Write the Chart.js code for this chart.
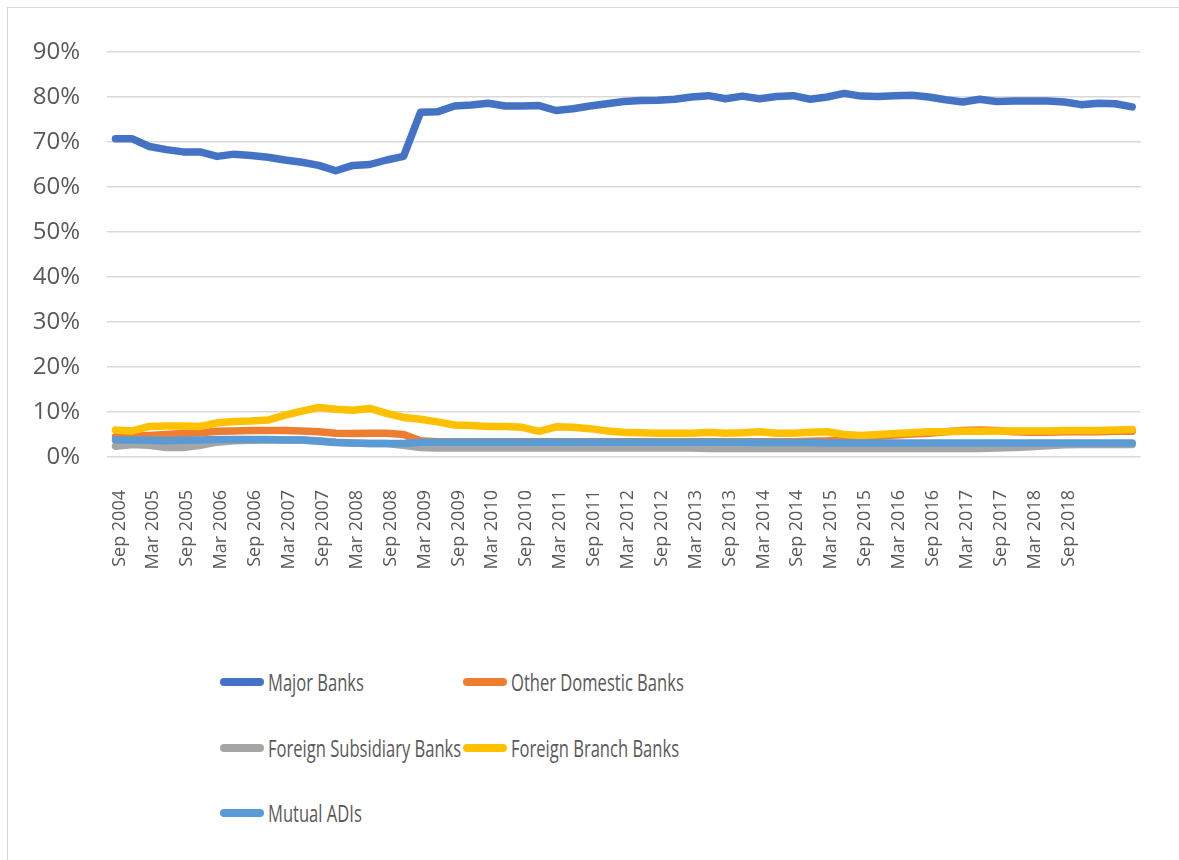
<!DOCTYPE html>
<html>
<head>
<meta charset="utf-8">
<script src="https://cdn.jsdelivr.net/npm/chart.js@4"></script>
<style>
  body { margin: 0; background: #fff; }
  #frame { position: absolute; left: 7px; top: 7px; width: 1172px; height: 853px;
           border-left: 1px solid #d9d9d9; border-top: 1px solid #d9d9d9; }
  #wrap { position: absolute; left: 0; top: 0; width: 1179px; height: 577px; }
  #legend { position: absolute; left: 220px; top: 667px; width: 600px;
            font-family: "Open Sans", sans-serif; font-size: 23px; color: #595959; }
  .item { position: absolute; display: flex; align-items: center; height: 30px; white-space: nowrap; }
  .swatch { width: 44px; height: 8px; border-radius: 4px; margin-right: 4px; flex: none; }
  .name { display: inline-block; transform: scaleX(0.72); transform-origin: left center; }
</style>
</head>
<body>
<div id="frame"></div>
<div id="wrap"><canvas id="lineChart"></canvas></div>
<div id="legend"></div>
<script>
const quarters = [
  "Sep 2004", "Dec 2004",
  "Mar 2005", "Jun 2005", "Sep 2005", "Dec 2005",
  "Mar 2006", "Jun 2006", "Sep 2006", "Dec 2006",
  "Mar 2007", "Jun 2007", "Sep 2007", "Dec 2007",
  "Mar 2008", "Jun 2008", "Sep 2008", "Dec 2008",
  "Mar 2009", "Jun 2009", "Sep 2009", "Dec 2009",
  "Mar 2010", "Jun 2010", "Sep 2010", "Dec 2010",
  "Mar 2011", "Jun 2011", "Sep 2011", "Dec 2011",
  "Mar 2012", "Jun 2012", "Sep 2012", "Dec 2012",
  "Mar 2013", "Jun 2013", "Sep 2013", "Dec 2013",
  "Mar 2014", "Jun 2014", "Sep 2014", "Dec 2014",
  "Mar 2015", "Jun 2015", "Sep 2015", "Dec 2015",
  "Mar 2016", "Jun 2016", "Sep 2016", "Dec 2016",
  "Mar 2017", "Jun 2017", "Sep 2017", "Dec 2017",
  "Mar 2018", "Jun 2018", "Sep 2018", "Dec 2018",
  "Mar 2019", "Jun 2019", "Sep 2019"
];
// last quarter that gets a label on the axis
const lastLabelled = "Sep 2018";

const majorBanks = [
  70.7, 70.7, 69.0, 68.3, 67.8, 67.8, 66.8, 67.3, 67.0, 66.6,
  66.0, 65.5, 64.8, 63.6, 64.8, 65.0, 66.0, 66.8, 76.6, 76.7,
  78.0, 78.2, 78.6, 78.0, 78.0, 78.1, 77.0, 77.4, 78.0, 78.5,
  79.0, 79.2, 79.3, 79.5, 80.0, 80.3, 79.6, 80.2, 79.6, 80.1,
  80.3, 79.5, 80.0, 80.8, 80.2, 80.1, 80.3, 80.4, 80.0, 79.4,
  78.9, 79.5, 79.0, 79.1, 79.1, 79.1, 78.9, 78.3, 78.6, 78.5,
  77.8
];
const otherDomestic = [
  4.5, 4.6, 4.8, 5.0, 5.2, 5.4, 5.7, 5.8, 5.9, 5.9,
  5.9, 5.8, 5.6, 5.3, 5.2, 5.3, 5.3, 5.0, 3.6, 3.4,
  3.4, 3.4, 3.4, 3.4, 3.4, 3.4, 3.4, 3.4, 3.4, 3.4,
  3.4, 3.4, 3.4, 3.4, 3.4, 3.4, 3.4, 3.4, 3.4, 3.4,
  3.4, 3.5, 3.6, 3.8, 4.2, 4.6, 4.9, 5.1, 5.3, 5.6,
  5.9, 6.0, 5.9, 5.6, 5.5, 5.5, 5.6, 5.6, 5.6, 5.7,
  5.7
];
const foreignSubsidiary = [
  2.4, 2.8, 2.6, 2.1, 2.1, 2.6, 3.3, 3.6, 3.7, 3.8,
  3.8, 3.8, 3.6, 3.3, 3.1, 3.0, 3.0, 2.6, 2.1, 2.0,
  2.0, 2.0, 2.0, 2.0, 2.0, 2.0, 2.0, 2.0, 2.0, 2.0,
  2.0, 2.0, 2.0, 2.0, 2.0, 1.9, 1.9, 1.9, 1.9, 1.9,
  1.9, 1.9, 1.9, 1.9, 1.9, 1.9, 1.9, 1.9, 1.9, 1.9,
  1.9, 1.9, 2.0, 2.1, 2.3, 2.5, 2.7, 2.8, 2.8, 2.8,
  2.8
];
const foreignBranch = [
  6.0, 5.8, 6.8, 6.9, 6.9, 6.8, 7.6, 7.9, 8.0, 8.2,
  9.3, 10.2, 11.0, 10.6, 10.4, 10.8, 9.7, 8.8, 8.4, 7.8,
  7.1, 7.0, 6.8, 6.8, 6.6, 5.7, 6.7, 6.6, 6.3, 5.8,
  5.5, 5.4, 5.3, 5.3, 5.3, 5.5, 5.3, 5.4, 5.6, 5.3,
  5.3, 5.5, 5.6, 5.0, 4.8, 5.0, 5.2, 5.4, 5.6, 5.6,
  5.7, 5.7, 5.8, 5.8, 5.8, 5.8, 5.9, 5.9, 5.9, 6.0,
  6.1
];
const mutualADIs = [
  3.8, 3.8, 3.7, 3.6, 3.7, 3.8, 3.9, 3.9, 3.9, 3.9,
  3.8, 3.8, 3.5, 3.2, 3.1, 3.0, 3.0, 3.0, 3.3, 3.3,
  3.3, 3.3, 3.3, 3.3, 3.3, 3.3, 3.3, 3.3, 3.3, 3.3,
  3.3, 3.3, 3.3, 3.3, 3.3, 3.3, 3.3, 3.3, 3.2, 3.2,
  3.2, 3.2, 3.1, 3.1, 3.1, 3.1, 3.1, 3.1, 3.1, 3.1,
  3.1, 3.1, 3.1, 3.1, 3.1, 3.1, 3.1, 3.1, 3.1, 3.1,
  3.1
];

const seriesNames = ["Major Banks", "Other Domestic Banks", "Foreign Subsidiary Banks", "Foreign Branch Banks", "Mutual ADIs"];
const seriesData = [majorBanks, otherDomestic, foreignSubsidiary, foreignBranch, mutualADIs];
const seriesColors = ["#4472C4", "#ED7D31", "#A5A5A5", "#FFC000", "#5B9BD5"];

const lastIdx = quarters.indexOf(lastLabelled);

const ctx = document.getElementById("lineChart");

new Chart(ctx, {
  type: "line",
  data: {
    labels: quarters,
    datasets: seriesNames.map((name, i) => ({
      label: name,
      data: seriesData[i],
      borderColor: seriesColors[i],
      backgroundColor: seriesColors[i],
      borderWidth: 7.5,
      pointRadius: 0,
      tension: 0,
      borderCapStyle: "round",
      borderJoinStyle: "round",
      // later series sit on top, like the original
      order: seriesNames.length - i,
    })),
  },
  options: {
    responsive: true,
    maintainAspectRatio: false,
    animation: false,
    layout: {
      padding: { top: 52, right: 26, bottom: 0, left: 0 },
    },
    plugins: {
      legend: { display: false },
      tooltip: { enabled: false },
    },
    scales: {
      x: {
        offset: true,
        grid: { display: false },
        border: { display: false },
        afterFit: (scale) => { scale.height = 120; },
        ticks: {
          autoSkip: false,
          maxRotation: 90,
          minRotation: 90,
          padding: 25,
          labelOffset: 4,
          color: "#595959",
          font: { family: "Open Sans", size: 18 },
          callback: function (value, index) {
            return index % 2 === 0 && index <= lastIdx ? this.getLabelForValue(value) : "";
          },
        },
      },
      y: {
        min: 0,
        max: 90,
        border: { display: false },
        grid: { color: "#d9d9d9", lineWidth: 1.5, drawTicks: false },
        afterFit: (scale) => { scale.width = 107; },
        ticks: {
          stepSize: 10,
          padding: 27,
          color: "#595959",
          font: { family: "Open Sans", size: 24 },
          callback: (v) => v + "%",
        },
      },
    },
  },
});

// legend laid out in two columns, like the original
const legend = document.getElementById("legend");
seriesNames.forEach((name, i) => {
  const item = document.createElement("div");
  item.className = "item";
  item.style.left = (i % 2) * 243 + "px";
  item.style.top = Math.floor(i / 2) * 65.5 + "px";
  item.innerHTML = '<span class="swatch" style="background:' + seriesColors[i] + '"></span>' +
    '<span class="name">' + name + '</span>';
  legend.appendChild(item);
});
</script>
</body>
</html>
